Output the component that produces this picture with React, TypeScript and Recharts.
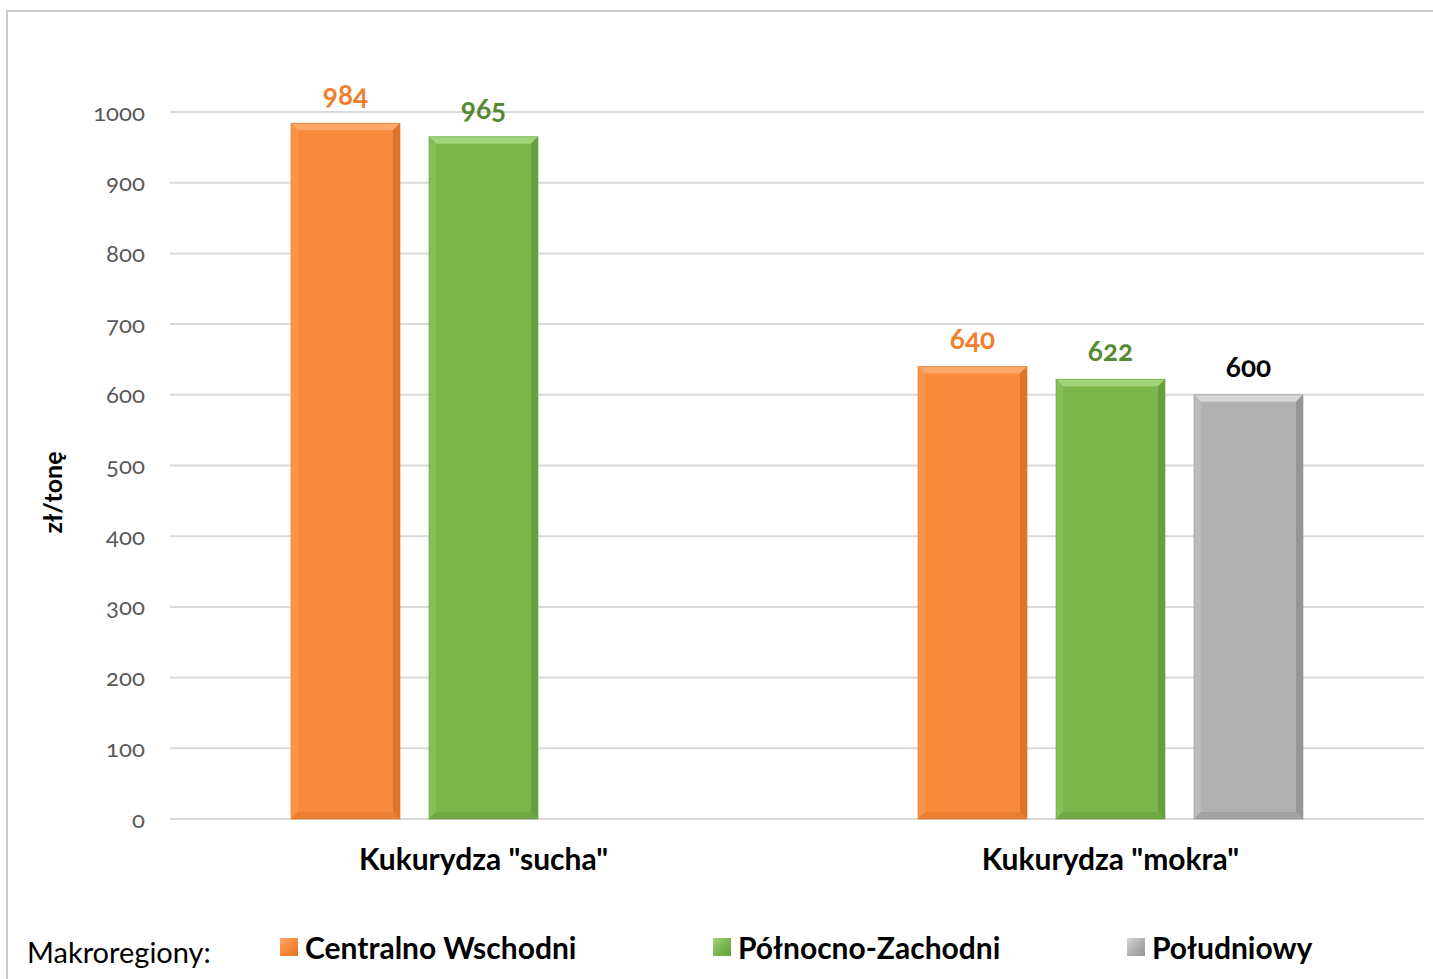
import React from 'react';
import { BarChart, Bar, XAxis, YAxis, CartesianGrid, LabelList, Legend } from 'recharts';

const categories = ['Kukurydza "sucha"', 'Kukurydza "mokra"'];
const centralnoWschodni = [984, 640];
const polnocnoZachodni = [965, 622];
const poludniowy: (number | null)[] = [null, 600];
const yTicks = [0, 100, 200, 300, 400, 500, 600, 700, 800, 900, 1000];
const seriesNames = ['Centralno Wschodni', 'Północno-Zachodni', 'Południowy'];
const legendTitle = 'Makroregiony:';
const yLabel = 'zł/tonę';

const data = categories.map((c, i) => ({
  name: c,
  cw: centralnoWschodni[i],
  pz: polnocnoZachodni[i],
  pd: poludniowy[i],
}));

const palettes = [
  { main: '#F98A3B', top: '#FCA869', left: '#FA9548', right: '#DE7429', bottom: '#E97E31', label: '#F07F2E' },
  { main: '#7AB74D', top: '#A2D57B', left: '#84C056', right: '#66A03D', bottom: '#6EA944', label: '#558A33' },
  { main: '#B1B1B1', top: '#D6D6D6', left: '#BBBBBB', right: '#969696', bottom: '#A2A2A2', label: '#000000' },
];

const FONT = 'Lato, "Open Sans", sans-serif';

const makeShape = (p: typeof palettes[0]) => (props: any) => {
  const { x, y, width: w, height: h } = props;
  if (h == null || h <= 0 || w <= 0) return <g />;
  const b = 7;
  return (
    <g>
      <rect x={x} y={y} width={w} height={h} fill={p.main} />
      <polygon points={`${x},${y} ${x + w},${y} ${x + w - b},${y + b} ${x + b},${y + b}`} fill={p.top} />
      <polygon points={`${x},${y} ${x + b},${y + b} ${x + b},${y + h - b} ${x},${y + h}`} fill={p.left} />
      <polygon points={`${x + w},${y} ${x + w - b},${y + b} ${x + w - b},${y + h - b} ${x + w},${y + h}`} fill={p.right} />
      <polygon points={`${x},${y + h} ${x + b},${y + h - b} ${x + w - b},${y + h - b} ${x + w},${y + h}`} fill={p.bottom} />
      <rect x={x} y={y} width={w} height={h} fill="none" stroke={p.right} strokeWidth={1} strokeOpacity={0.6} />
    </g>
  );
};

const makeLabel = (color: string) => (props: any) => {
  const { x, y, width, value } = props;
  if (value == null) return null;
  return (
    <text
      x={x + width / 2}
      y={y - 18}
      textAnchor="middle"
      fill={color}
      fontSize={28}
      fontWeight={700}
      fontFamily={FONT}
      style={{ fontVariantNumeric: 'oldstyle-nums' }}
    >
      {value}
    </text>
  );
};

const YLabel = (props: any) => {
  const vb = props.viewBox || { x: 70, y: 112, width: 100, height: 707 };
  const cx = vb.x - 18;
  const cy = vb.y + vb.height / 2 + 27;
  return (
    <text
      x={cx}
      y={cy}
      transform={`rotate(-90, ${cx}, ${cy})`}
      textAnchor="middle"
      dominantBaseline="central"
      fontSize={25}
      fontWeight={700}
      fill="#000"
      fontFamily={FONT}
    >
      {yLabel}
    </text>
  );
};

const LegendContent = () => {
  const xs = [280, 713, 1127];
  return (
    <div style={{ position: 'relative', width: 1433, height: 60, fontFamily: FONT }}>
      <span style={{ position: 'absolute', left: 27, top: 12, fontSize: 29, color: '#000', whiteSpace: 'nowrap' }}>
        {legendTitle}
      </span>
      {seriesNames.map((n, i) => (
        <div key={n} style={{ position: 'absolute', left: xs[i], top: 7, display: 'flex', alignItems: 'center', whiteSpace: 'nowrap' }}>
          <span
            style={{
              display: 'inline-block',
              width: 18,
              height: 18,
              background: `linear-gradient(135deg, ${palettes[i].top} 0%, ${palettes[i].main} 50%, ${palettes[i].right} 100%)`,
              marginRight: 7,
            }}
          />
          <span style={{ fontSize: 30, fontWeight: 700, color: '#000' }}>{n}</span>
        </div>
      ))}
    </div>
  );
};

export default function App() {
  return (
    <div style={{ position: 'absolute', left: 0, top: 0, width: 1433, height: 979, background: '#fff', overflow: 'hidden' }}>
      <div
        style={{
          position: 'absolute',
          left: 6,
          top: 10,
          width: 1440,
          height: 1000,
          border: '2px solid #C9C9C9',
          boxSizing: 'border-box',
        }}
      />
      <div style={{ position: 'absolute', left: 0, top: 0 }}>
        <BarChart
          width={1433}
          height={979}
          data={data}
          margin={{ top: 112, right: 9, bottom: 40, left: 70 }}
          barSize={109}
          barGap={29}
        >
          <CartesianGrid vertical={false} stroke="#D9D9D9" strokeWidth={2} />
          <XAxis
            dataKey="name"
            axisLine={false}
            tickLine={false}
            tickMargin={24}
            height={60}
            tick={{ fontSize: 30, fontWeight: 700, fill: '#000', fontFamily: FONT }}
          />
          <YAxis
            width={100}
            domain={[0, 1000]}
            ticks={yTicks}
            axisLine={false}
            tickLine={false}
            tickSize={0}
            tickMargin={25}
            tick={{ fontSize: 24, fill: '#595959', fontFamily: FONT, style: { fontVariantNumeric: 'oldstyle-nums' } }}
            label={<YLabel />}
          />
          <Legend
            verticalAlign="bottom"
            content={<LegendContent />}
            wrapperStyle={{ position: 'absolute', left: 0, top: 922, width: 1433, height: 60 }}
          />
          <Bar dataKey="cw" name={seriesNames[0]} fill={palettes[0].main} shape={makeShape(palettes[0])} isAnimationActive={false}>
            <LabelList dataKey="cw" content={makeLabel(palettes[0].label)} />
          </Bar>
          <Bar dataKey="pz" name={seriesNames[1]} fill={palettes[1].main} shape={makeShape(palettes[1])} isAnimationActive={false}>
            <LabelList dataKey="pz" content={makeLabel(palettes[1].label)} />
          </Bar>
          <Bar dataKey="pd" name={seriesNames[2]} fill={palettes[2].main} shape={makeShape(palettes[2])} isAnimationActive={false}>
            <LabelList dataKey="pd" content={makeLabel(palettes[2].label)} />
          </Bar>
        </BarChart>
      </div>
    </div>
  );
}
